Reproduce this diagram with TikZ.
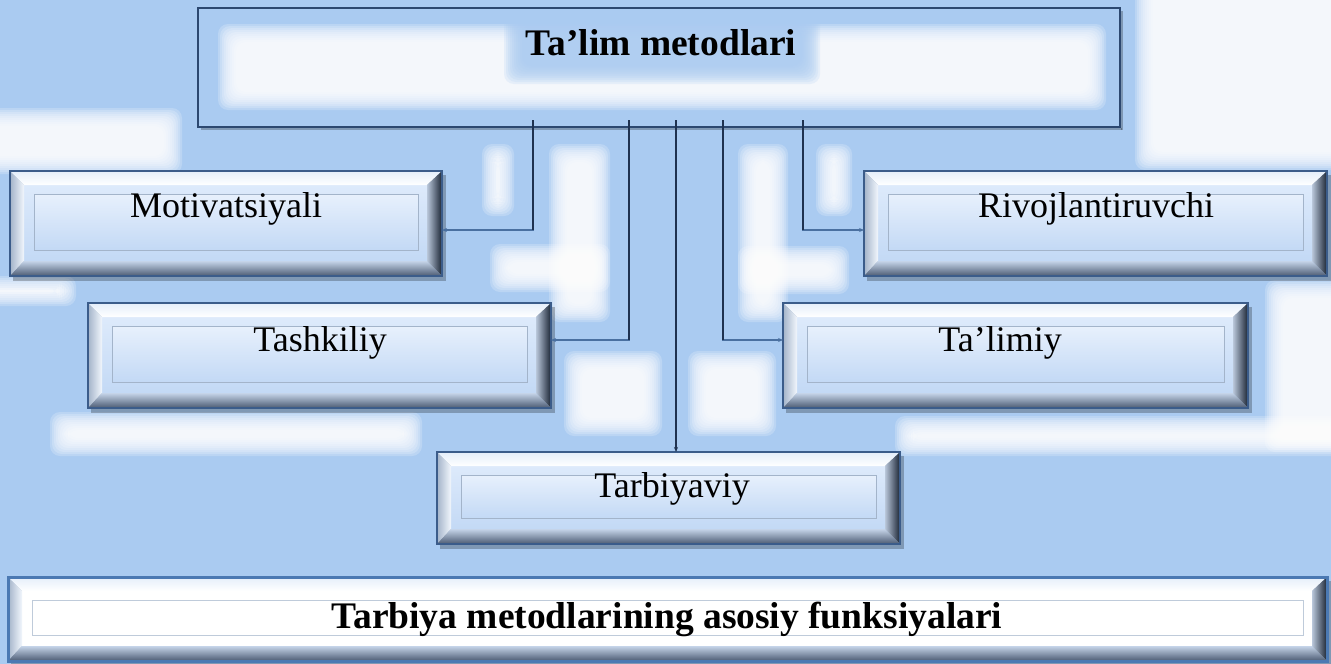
\documentclass[tikz,border=0pt]{standalone}
\usepackage{fontspec}
\setmainfont{Liberation Serif}
\usetikzlibrary{arrows.meta,calc}
\definecolor{bg}{HTML}{AACBF1}
\definecolor{topbevA}{HTML}{E4EEFA}
\definecolor{lbevA}{HTML}{A3B3C9}
\definecolor{lbevB}{HTML}{F2F7FD}
\definecolor{rbevA}{HTML}{B9C7DA}
\definecolor{rbevB}{HTML}{1A2434}
\definecolor{bbevA}{HTML}{C5D4E9}
\definecolor{bbevB}{HTML}{4C5B72}
\definecolor{faceA}{HTML}{DDEAFB}
\definecolor{faceB}{HTML}{C3D9F5}
\definecolor{innerline}{HTML}{A3B4CA}
\definecolor{boxline}{HTML}{3B5C8A}
\definecolor{botline}{HTML}{4B79B3}
\definecolor{topline}{HTML}{2C4870}
\definecolor{vline}{HTML}{1F3250}
\definecolor{hline}{HTML}{4A70A0}

% soft blob: x1 y1 x2 y2 colour
\newcommand\myfuzz[5]{%
  \foreach \k in {0,...,9}{%
    \fill[#5,opacity=.2,rounded corners=10]
      ({#1+\k*2},{#2+\k*2}) rectangle ({#3-\k*2},{#4-\k*2});}}

% bevelled box: name x1 y1 x2 y2 facestyle innerstyle borderstyle
\newcommand\bevbox[8]{%
  \pgfmathsetmacro\bxa{#2+14}\pgfmathsetmacro\bya{#3+14}%
  \pgfmathsetmacro\bxb{#4-15}\pgfmathsetmacro\byb{#5-15}%
  \fill[black,opacity=.25] (#2+3,#3+4) rectangle (#4+4,#5+5);
  \shade[#6] (\bxa,\bya) rectangle (\bxb,\byb);
  \shade[top color=topbevA,bottom color=white]
    (#2,#3) -- (#4,#3) -- (\bxb,\bya) -- (\bxa,\bya) -- cycle;
  \shade[left color=lbevA,right color=lbevB]
    (#2,#3) -- (\bxa,\bya) -- (\bxa,\byb) -- (#2,#5) -- cycle;
  \shade[left color=rbevA,right color=rbevB]
    (#4,#3) -- (#4,#5) -- (\bxb,\byb) -- (\bxb,\bya) -- cycle;
  \shade[top color=bbevA,bottom color=bbevB]
    (#2,#5) -- (\bxa,\byb) -- (\bxb,\byb) -- (#4,#5) -- cycle;
  \shade[#7] (#2+24,#3+23) rectangle (#4-24,#5-26);
  \node[#8,minimum width={#4-#2},minimum height={#5-#3}] (#1)
    at ({(#2+#4)/2},{(#3+#5)/2}) {};
}

\begin{document}
\begin{tikzpicture}[x=1pt,y=-1pt,
  lbl/.style={font=\fontsize{36}{40}\selectfont,inner sep=0,anchor=base},
  ttl/.style={font=\fontsize{37.5}{42}\selectfont\bfseries,inner sep=0,anchor=base},
  blueface/.style={top color=faceA,bottom color=faceB},
  blueinner/.style={top color=faceA!70!white,bottom color=faceB,draw=innerline,line width=.8},
  whiteface/.style={top color=white,bottom color=white},
  whiteinner/.style={top color=white,bottom color=white,draw=innerline!70,line width=.8},
  bevborder/.style={draw=boxline,line width=1.5,inner sep=0,outer sep=0,rectangle},
  botborder/.style={draw=botline,line width=3,inner sep=0,outer sep=0,rectangle},
  topbox/.style={draw=topline,line width=2,inner sep=0,outer sep=0,rectangle},
  hconn/.style={draw=hline,line width=1.6,-{Stealth[length=5pt,width=4pt]}},
  vconn/.style={draw=vline,line width=1.8},
]
\useasboundingbox (0,0) rectangle (1331,664);
\fill[bg] (0,0) rectangle (1331,664);

% soft white glows of the background
\myfuzz{1135}{-30}{1370}{170}{white}
\myfuzz{1265}{280}{1370}{452}{white}
\myfuzz{895}{416}{1370}{456}{white}
\myfuzz{50}{412}{422}{456}{white}
\myfuzz{-30}{108}{182}{174}{white}
\myfuzz{-30}{276}{76}{306}{white}
% T-shapes between the connectors
\myfuzz{549}{144}{610}{322}{white}
\myfuzz{490}{244}{610}{292}{white}
\myfuzz{738}{144}{788}{322}{white}
\myfuzz{738}{246}{849}{294}{white}
\myfuzz{482}{144}{514}{216}{white}
\myfuzz{816}{144}{852}{216}{white}
\myfuzz{564}{351}{662}{436}{white}
\myfuzz{688}{351}{776}{436}{white}

% top box
\fill[black,opacity=.25] (201,128) rectangle (1122,130);
\fill[black,opacity=.25] (1121,11) rectangle (1123,130);
\myfuzz{218}{24}{1106}{110}{white}
\myfuzz{504}{10}{820}{84}{bg}
\node[topbox,minimum width=922,minimum height=119] (top) at (659,67.5) {};
\node[ttl] (top-t) at (661,55) {Ta’lim metodlari};

% connector start points and elbows
\coordinate (s1) at (533,120);
\coordinate (s2) at (629,120);
\coordinate (s3) at (676,120);
\coordinate (s4) at (723,120);
\coordinate (s5) at (803,120);
\coordinate (e1) at (533,230);
\coordinate (e2) at (629,340);
\coordinate (e4) at (723,340);
\coordinate (e5) at (803,230);

% boxes
\bevbox{motiv}{10}{171}{442}{276}{blueface}{blueinner}{bevborder}
\bevbox{rivoj}{864}{171}{1327}{276}{blueface}{blueinner}{bevborder}
\bevbox{tashk}{88}{303}{551}{408}{blueface}{blueinner}{bevborder}
\bevbox{talim}{783}{303}{1248}{408}{blueface}{blueinner}{bevborder}
\bevbox{tarb}{437}{452}{900}{544}{blueface}{blueinner}{bevborder}
\bevbox{funk}{8}{577}{1327}{661}{whiteface}{whiteinner}{botborder}

% connectors
\draw[hconn] (s1) -- (e1) -- (motiv.east |- e1);
\draw[hconn] (s2) -- (e2) -- (tashk.east |- e2);
\draw[hconn] (s4) -- (e4) -- (talim.west |- e4);
\draw[hconn] (s5) -- (e5) -- (rivoj.west |- e5);
\draw[vconn] (s1) -- (e1);
\draw[vconn] (s2) -- (e2);
\draw[vconn] (s4) -- (e4);
\draw[vconn] (s5) -- (e5);
\draw[vconn,-{Stealth[length=5pt,width=4pt]}] (s3) -- (s3 |- tarb.north);

% labels
\node[lbl] (motiv-t) at (226,217) {Motivatsiyali};
\node[lbl] (rivoj-t) at (1096,217) {Rivojlantiruvchi};
\node[lbl] (tashk-t) at (320,351) {Tashkiliy};
\node[lbl] (talim-t) at (1000,351) {Ta’limiy};
\node[lbl] (tarb-t) at (672,497) {Tarbiyaviy};
\node[ttl] (funk-t) at (667,628) {Tarbiya metodlarining asosiy funksiyalari};
\end{tikzpicture}
\end{document}
